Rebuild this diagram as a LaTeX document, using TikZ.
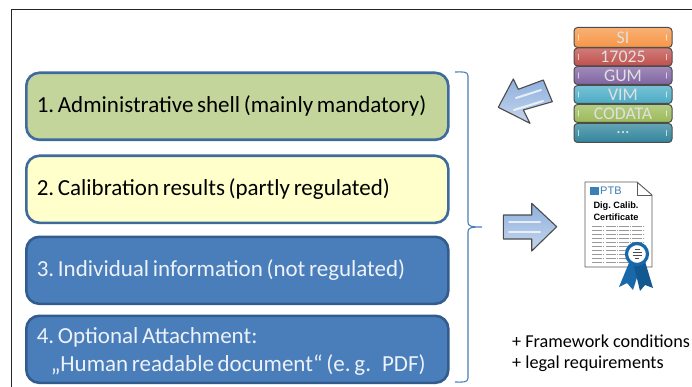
\documentclass[tikz,border=0pt]{standalone}
\usepackage{fontspec}
\setmainfont[WordSpace=0.7]{Carlito}
\newfontfamily\remarkfont{Carlito}
\newfontfamily\certfont{Liberation Sans}
\usetikzlibrary{calc}
\definecolor{boxline}{RGB}{62,106,158}
\definecolor{boxblue}{RGB}{74,126,187}
\definecolor{boxdark}{RGB}{50,92,142}
\definecolor{boxgreen}{RGB}{196,213,155}
\definecolor{boxyellow}{RGB}{255,255,204}
\definecolor{arrowlight}{RGB}{198,214,236}
\definecolor{arrowdark}{RGB}{142,176,222}
\definecolor{ribbon}{RGB}{24,104,170}
\definecolor{stackorange}{RGB}{247,150,70}
\definecolor{stackred}{RGB}{192,80,77}
\definecolor{stackviolet}{RGB}{128,100,162}
\definecolor{stackcyan}{RGB}{75,172,198}
\definecolor{stackgreen}{RGB}{155,187,89}
\definecolor{stackteal}{RGB}{49,133,156}

\begin{document}
\frenchspacing
\begin{tikzpicture}[
		x=1pt, y=-1pt,
		layer/.style={draw=boxline, line width=2.6pt, rounded corners=13pt, minimum height=67pt,
			text width=401pt, inner xsep=10.5pt, inner ysep=0pt, align=flush left, anchor=north west,
			font=\fontsize{23}{27}\selectfont},
		bluelayer/.style={layer, draw=boxdark, fill=boxblue, text=white!90!boxblue},
		strip/.style={draw=black!70, line width=1pt, rounded corners=3.5pt, minimum width=98pt,
			inner sep=0pt, anchor=north west, text=white!88!black, font=\fontsize{17.8}{18}\selectfont,
			top color=#1!75!white, bottom color=#1},
		glint/.style={line width=1.2pt, white, opacity=0.65, line cap=round},
		bigarrow/.style={draw=black!70, line width=1.1pt, top color=arrowdark, bottom color=arrowlight, line join=round},
		sheen/.style={line width=2pt, white, opacity=0.75, line cap=round},
		finetext/.style={black!40, line width=0.6pt, dash pattern=on 1.6pt off 0.5pt}
	]
	\useasboundingbox (0,0) rectangle (692,387);
	\fill[white] (0,0) rectangle (692,387);

	% frame of the slide
	\draw[black!85, line width=0.8pt] (692,9) -- (11,9) -- (11,387);

	% the four layers
	\node[layer, fill=boxgreen] (shell) at (25,71.5) {1. Administrative shell (mainly mandatory)};
	\node[layer, fill=boxyellow] (results) at (25,154.5) {2. Calibration results (partly regulated)};
	\node[bluelayer] (info) at (25,235.5) {3. Individual information (not regulated)};
	\node[bluelayer] (attach) at (25,314.5) {\rule{0pt}{20pt}4. Optional Attachment:\\[1pt]\hspace*{14pt}„Human readable document“ (e.\,g.~~~PDF)};

	% brace
	\draw[boxblue, line width=1.1pt] (455,72) .. controls (462,72) and (468,71) .. (468,76)
		-- (468,222) .. controls (468,226) and (470,227) .. (482,227)
		.. controls (470,227) and (468,228) .. (468,232)
		-- (468,378) .. controls (468,383) and (462,382) .. (455,382);

	% arrows
	\draw[bigarrow] (498.3,107.3) -- (513.3,79) -- (518.3,89.3) -- (543.3,80) -- (552.3,101.7) -- (523.3,110) -- (530,123.3) -- cycle;
	\draw[sheen] (516,98) -- (541,90);
	\draw[sheen] (514,110) -- (543,101);
	\draw[bigarrow] (503.3,215) -- (531.7,215) -- (531.7,203.3) -- (556.7,226.7) -- (531.7,251) -- (531.7,239) -- (503.3,239) -- cycle;
	\draw[sheen] (509,222) -- (540,222);
	\draw[sheen] (509,232) -- (540,232);

	% stack of documents
	\node[strip=stackorange, minimum height=20pt] (si) at (573.5,27) {SI};
	\node[strip=stackred, minimum height=18pt] (iso) at (573.5,47.5) {17025};
	\node[strip=stackviolet, minimum height=18pt] (gum) at (573.5,66) {GUM};
	\node[strip=stackcyan, minimum height=18pt] (vim) at (573.5,85) {VIM};
	\node[strip=stackgreen, minimum height=18pt] (codata) at (573.5,104) {CODATA};
	\node[strip=stackteal, minimum height=19pt] (more) at (573.5,123) {...};
	\foreach \strip in {si,iso,gum,vim,codata,more} {
		\draw[glint] ($(\strip.west)+(5,-2.5)$) -- ($(\strip.west)+(5,2.5)$);
		\draw[glint] ($(\strip.east)+(-6,-2.5)$) -- ($(\strip.east)+(-6,2.5)$);
	}

	% certificate
	\draw[black!65, line width=0.9pt, fill=white, line join=round] (585,182) -- (637,182) -- (652,195) -- (652,267) -- (585,267) -- cycle;
	\draw[black!65, line width=0.9pt, line join=round] (637,182) -- (637,195) -- (652,195);
	\fill[ribbon!85!white] (590,187) rectangle (599,195);
	\node[inner sep=0pt, text=ribbon!85!white, font=\certfont\fontsize{11}{11}\selectfont, anchor=west] (ptb) at (600,191) {PTB};
	\node[inner sep=0pt, font=\certfont\bfseries\fontsize{9.2}{9.2}\selectfont] (dig) at (616,206) {Dig. Calib.};
	\node[inner sep=0pt, font=\certfont\bfseries\fontsize{9.2}{9.2}\selectfont] (cert) at (616,217) {Certificate};
	\foreach \row in {0,...,9} {
		\foreach \col in {592,606,619,632} {
			\draw[finetext] (\col,226+\row*4) -- (\col+11.5,226+\row*4);
		}
	}
	\fill[ribbon, line join=round] (631,258) -- (619,287) -- (627,283) -- (633,290) -- (642,262) -- cycle;
	\fill[ribbon!85!black, line join=round] (633,262) -- (640,291) -- (645,285) -- (653,288) -- (644,258) -- cycle;
	\node[circle, fill=white, draw=ribbon, line width=3.2pt, minimum size=21pt, inner sep=0pt] (seal) at (637,254) {};
	\foreach \row/\half in {-5/2.5,-2/4.5,1/4.5,4/2} {
		\draw[black!70, line width=0.7pt] (637-\half,254+\row) -- (637+\half,254+\row);
	}

	% remark
	\node[inner sep=0pt, align=flush left, anchor=north west, font=\remarkfont\fontsize{18.2}{21}\selectfont] (remark) at (512,335) {+ Framework conditions\\+ legal requirements};
\end{tikzpicture}
\end{document}
